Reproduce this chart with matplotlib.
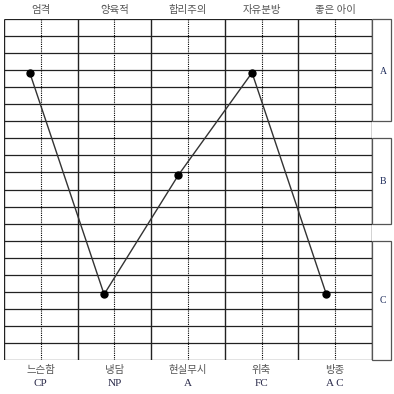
import numpy as np
import matplotlib
matplotlib.use("Agg")
import matplotlib.pyplot as plt
from matplotlib.patches import Rectangle

plt.rcParams['font.family'] = ['Noto Sans CJK KR', 'DejaVu Sans']

top_labels = ["엄격", "양육적", "합리주의", "자유분방", "좋은 아이"]
bottom_labels = ["느슨함", "냉담", "현실무시", "위축", "방종"]
codes = ["CP", "NP", "A", "FC", "A C"]

# dot positions (column + offset inside column) and levels
point_x = [0.35, 1.36, 2.37, 3.37, 4.38]
point_y = [16.85, 3.85, 10.85, 16.85, 3.85]

# right-side groups: (name, low, high)
groups = [("A", 14, 20), ("B", 8, 13), ("C", 0, 7)]

n_cols = 5
n_rows = 20

fig = plt.figure(figsize=(3.94, 3.94), dpi=100)
ax = fig.add_axes([4 / 394, 34 / 394, 368 / 394, 341 / 394])
ax.set_xlim(0, n_cols)
ax.set_ylim(0, n_rows)
ax.axis("off")

# grid
for k in range(n_rows + 1):
    ax.plot([0, n_cols], [k, k], color="#222222", lw=0.9, solid_capstyle="butt")
for i in range(n_cols + 1):
    ax.plot([i, i], [0, n_rows], color="#222222", lw=1.0, solid_capstyle="butt")
for i in range(n_cols):
    ax.plot([i + 0.5, i + 0.5], [0, n_rows], color="black", lw=0.8, ls=(0, (1, 1)))

# group boxes on the right
box_w = 19 / 73.6
label_y = {"A": 16.95, "B": 10.45, "C": 3.5}
for name, lo, hi in groups:
    ax.add_patch(Rectangle((n_cols, lo), box_w, hi - lo, fill=False,
                           ec="#555555", lw=0.9, clip_on=False))
    ax.text(n_cols + box_w / 2 + 0.02, label_y[name], name, ha="center", va="center",
            fontsize=7, family="Liberation Serif", color="#1c2a5a", clip_on=False)

# profile line
ax.plot(point_x, point_y, color="#333333", lw=1.0, zorder=3)
ax.plot(point_x, point_y, "o", color="black", ms=5, zorder=4)

# labels
for i in range(n_cols):
    ax.text(i + 0.5, n_rows + 0.53, top_labels[i], ha="center", va="center",
            fontsize=7.5, color="#555555", clip_on=False)
    ax.text(i + 0.5, -0.6, bottom_labels[i], ha="center", va="center",
            fontsize=7.5, color="#555555", clip_on=False)
    ax.text(i + 0.5, -1.4, codes[i], ha="center", va="center", fontsize=8,
            family="Liberation Serif", color="#2a2a4a", clip_on=False)

fig.savefig("out.png", dpi=100)
